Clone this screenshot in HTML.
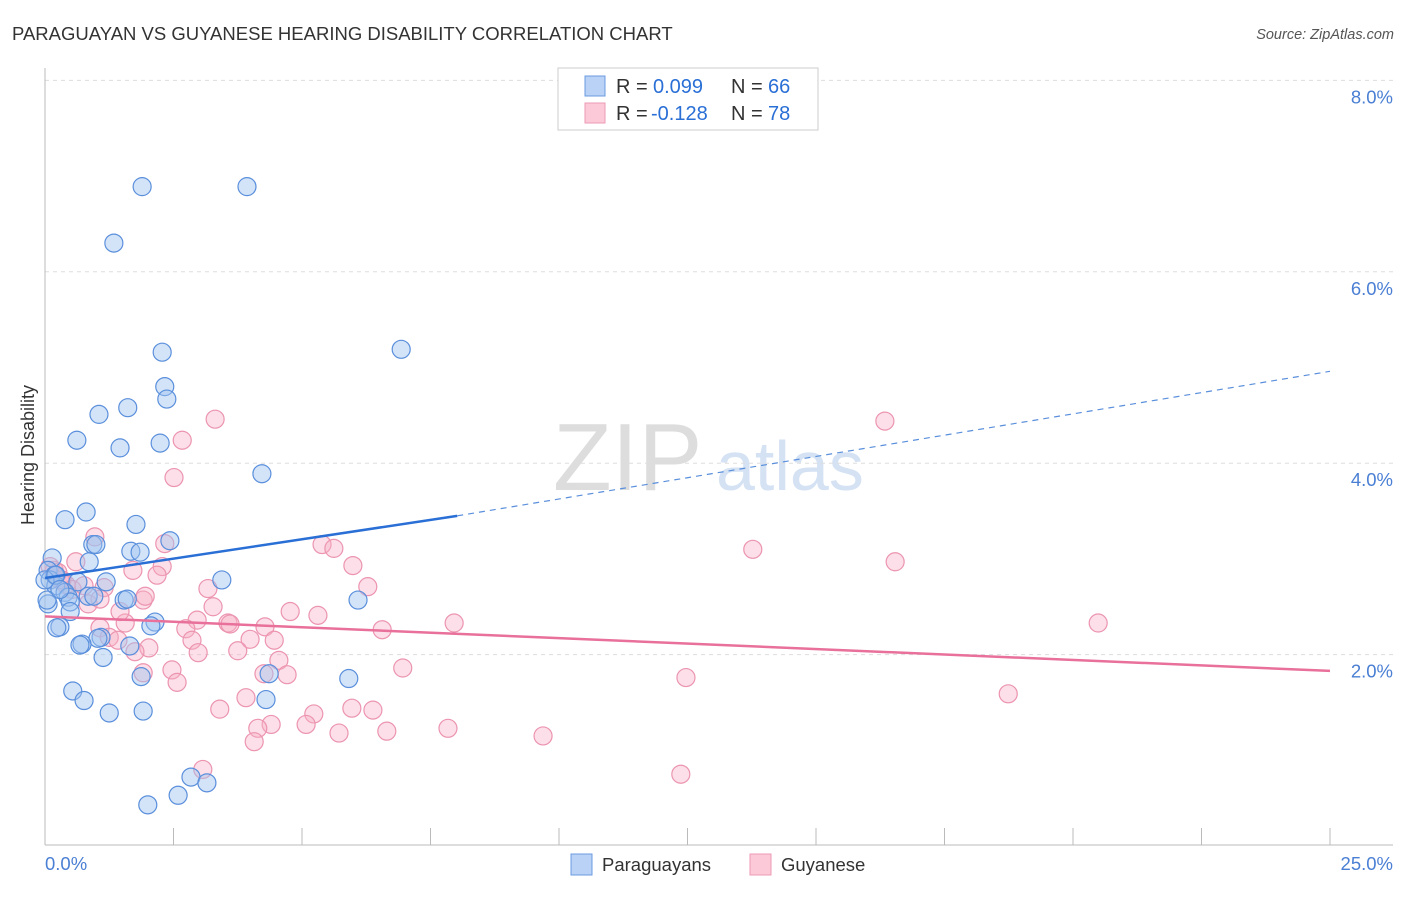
<!DOCTYPE html>
<html><head><meta charset="utf-8"><style>
body{margin:0;background:#fff;font-family:"Liberation Sans",sans-serif;}
svg text{font-family:"Liberation Sans",sans-serif;}
</style></head><body>
<svg id="chart" width="1406" height="892">
<text x="12" y="40" font-size="18.5" fill="#333">PARAGUAYAN VS GUYANESE HEARING DISABILITY CORRELATION CHART</text>
<text x="1394" y="39" font-size="14.5" font-style="italic" fill="#555" text-anchor="end">Source: ZipAtlas.com</text>
<text x="553" y="490" font-size="96" font-family="Liberation Serif,serif" fill="#ddd">ZIP</text>
<text x="716" y="490" font-size="70" fill="#d4e2f4">atlas</text>
<g id="grid"></g>
<g id="axes"></g>
<g id="pts"></g>
<g id="trend"></g>
<text transform="translate(34,455) rotate(-90)" font-size="18" fill="#333" text-anchor="middle">Hearing Disability</text>
<g>
<rect x="558" y="68" width="260" height="62" fill="#fff" stroke="#ccc"/>
<rect x="585" y="76" width="20" height="20" fill="#b9d2f5" stroke="#6a9be0"/>
<rect x="585" y="103" width="20" height="20" fill="#fbc9d8" stroke="#ec9ab4"/>
<text x="616" y="93" font-size="20" fill="#333">R = <tspan x="653" fill="#2a6fd6">0.099</tspan><tspan x="731">N = </tspan><tspan x="768" fill="#2a6fd6">66</tspan></text>
<text x="616" y="120" font-size="20" fill="#333">R = <tspan x="651" fill="#2a6fd6">-0.128</tspan><tspan x="731">N = </tspan><tspan x="768" fill="#2a6fd6">78</tspan></text>
</g>
<g>
<rect x="571" y="854" width="21" height="21" fill="#b9d2f5" stroke="#6a9be0"/>
<text x="602" y="871" font-size="18.5" fill="#333">Paraguayans</text>
<rect x="750" y="854" width="21" height="21" fill="#fbc9d8" stroke="#ec9ab4"/>
<text x="781" y="871" font-size="18.5" fill="#333">Guyanese</text>
</g>
</svg>
<script>
const yTicks=[2,4,6,8];
const xTickLabels=["0.0%","25.0%"];
const blueX=[1.89,3.93,1.34,2.28,6.93,2.33,2.37,1.05,1.61,0.62,2.24,1.46,4.22,0.80,0.39,1.77,2.43,0.93,0.99,1.67,1.85,0.14,0.86,0.06,0.19,0.10,0.64,1.19,3.44,0.21,0.39,0.45,0.84,0.95,1.54,1.60,6.09,0.49,0.06,0.49,2.14,2.06,0.29,0.23,1.09,1.03,0.72,0.68,1.65,1.13,4.36,1.87,5.91,0.54,0.76,4.30,1.25,1.91,2.84,2.59,3.15,2.00,0.00,0.04,0.21,0.29];
const blueY=[6.89,6.89,6.30,5.16,5.19,4.80,4.67,4.51,4.58,4.24,4.21,4.16,3.89,3.49,3.41,3.36,3.19,3.15,3.15,3.08,3.07,3.01,2.97,2.88,2.83,2.78,2.76,2.76,2.78,2.72,2.65,2.60,2.61,2.61,2.57,2.58,2.57,2.55,2.53,2.45,2.34,2.30,2.29,2.28,2.18,2.17,2.11,2.10,2.09,1.97,1.80,1.77,1.75,1.62,1.52,1.53,1.39,1.41,0.72,0.53,0.66,0.43,2.78,2.57,2.83,2.68];
const pinkX=[3.31,2.67,16.34,2.51,13.77,16.54,0.97,2.33,5.39,5.62,0.60,2.28,1.71,5.99,2.18,0.19,0.29,0.41,1.15,6.28,3.17,1.91,0.84,1.07,3.27,5.31,2.96,3.56,1.56,7.96,20.49,4.28,6.56,1.07,2.74,1.25,1.42,2.86,4.46,3.99,2.02,3.75,1.75,2.98,4.55,6.96,2.47,1.91,4.26,4.71,2.57,12.47,3.91,3.40,6.38,5.97,18.74,5.23,4.40,4.14,5.08,7.84,5.72,6.65,9.69,4.07,3.07,12.37,0.18,0.25,0.10,0.33,0.53,0.76,1.46,1.95,3.60,4.77];
const pinkY=[4.46,4.24,4.44,3.85,3.10,2.97,3.23,3.16,3.15,3.11,2.97,2.92,2.88,2.93,2.83,2.83,2.78,2.73,2.70,2.71,2.69,2.57,2.53,2.58,2.50,2.41,2.36,2.33,2.33,2.33,2.33,2.29,2.26,2.28,2.27,2.18,2.15,2.15,2.15,2.16,2.07,2.04,2.03,2.02,1.94,1.86,1.84,1.81,1.80,1.79,1.71,1.76,1.55,1.43,1.42,1.44,1.59,1.38,1.27,1.23,1.27,1.23,1.18,1.20,1.15,1.09,0.80,0.75,2.88,2.86,2.92,2.78,2.68,2.72,2.45,2.61,2.32,2.45];
const blueTrend=[2.80,3.45,4.96]; // y at x=0, x=8.02 (solid end), x=25
const blueSolidEnd=[8.02];
const pinkTrend=[2.40,1.83]; // y at x=0, x=25
const NS="http://www.w3.org/2000/svg";
const sx=v=>45+v*51.4, sy=v=>846-v*95.7;
function mk(t,a,p){const e=document.createElementNS(NS,t);for(const k in a)e.setAttribute(k,a[k]);p.appendChild(e);return e;}
const grid=document.getElementById('grid'),axes=document.getElementById('axes');
yTicks.forEach(v=>{
 const l=mk('line',{x1:45,x2:1393,y1:sy(v),y2:sy(v),stroke:'#ddd','stroke-dasharray':'4,4'},grid);
 
 
 const t=mk('text',{x:1393,y:sy(v)+23,'font-size':18.5,fill:'#4a7fd4','text-anchor':'end'},grid);
 t.textContent=v.toFixed(1)+'%';
 
 
});
mk('line',{x1:45,x2:45,y1:68,y2:845,stroke:'#bbb'},axes);
mk('line',{x1:45,x2:1393,y1:845,y2:845,stroke:'#bbb'},axes);
for(let i=0;i<=10;i++){const x=sx(i*2.5);const tk=mk('line',{x1:x,x2:x,y1:828,y2:845,stroke:'#bbb'},axes);
 
 }
const xl0=mk('text',{x:45,y:870,'font-size':18.5,fill:'#4a7fd4'},axes);xl0.textContent=xTickLabels[0];


const xl1=mk('text',{x:1393,y:870,'font-size':18.5,fill:'#4a7fd4','text-anchor':'end'},axes);xl1.textContent=xTickLabels[1];


const pts=document.getElementById('pts');
pinkX.forEach((x,i)=>{const c=mk('circle',{cx:sx(x),cy:sy(pinkY[i]),r:9,fill:'rgba(248,175,198,0.4)',stroke:'#ec94b0','stroke-width':1.2},pts);
 
 });
blueX.forEach((x,i)=>{const c=mk('circle',{cx:sx(x),cy:sy(blueY[i]),r:9,fill:'rgba(160,195,240,0.45)',stroke:'#5a8fdc','stroke-width':1.2},pts);
 
 });
const tr=document.getElementById('trend');
const b1=mk('line',{x1:sx(0),y1:sy(blueTrend[0]),x2:sx(blueSolidEnd[0]),y2:sy(blueTrend[1]),stroke:'#2a6fd6','stroke-width':2.5},tr);


const b2=mk('line',{x1:sx(blueSolidEnd[0]),y1:sy(blueTrend[1]),x2:sx(25),y2:sy(blueTrend[2]),stroke:'#5a8fdc','stroke-width':1.2,'stroke-dasharray':'6,5'},tr);


const p1=mk('line',{x1:sx(0),y1:sy(pinkTrend[0]),x2:sx(25),y2:sy(pinkTrend[1]),stroke:'#e8709a','stroke-width':2.5},tr);


</script>
</body></html>
